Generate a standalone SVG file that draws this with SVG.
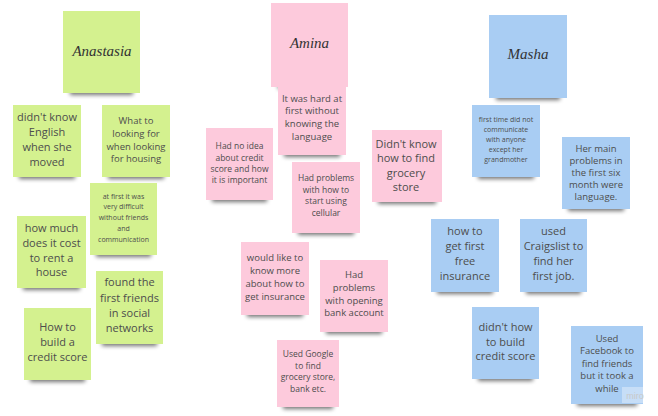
<svg xmlns="http://www.w3.org/2000/svg" width="658" height="416" viewBox="0 0 658 416">
<defs>
<filter id="blur" x="-20%" y="-100%" width="140%" height="300%"><feGaussianBlur stdDeviation="2"/></filter>
<style>
.g{fill:#d4f18f}
.p{fill:#fdcadc}
.b{fill:#a9cdf3}
.sh{fill:#000;opacity:0.55;filter:url(#blur)}
text{font-family:"Open Sans","Noto Sans","Liberation Sans",sans-serif;fill:#4d4d4d;text-anchor:middle}
.t{font-family:"Liberation Serif","DejaVu Serif",serif;font-style:italic;font-size:15px;fill:#333}
.f11{font-size:11px}
.f10{font-size:9.5px}
.f9{font-size:8.5px}
.f7{font-size:7px}
.mi{font-family:"Liberation Sans",sans-serif;font-size:9px;fill:#c9c9c9}
</style>
</defs>
<rect width="658" height="416" fill="#fff"/>

<g id="anastasia">
<rect class="sh" x="70" y="87" width="63" height="8"/>
<rect class="g" x="63" y="11" width="77" height="82"/>
<text class="t" x="102" y="56">Anastasia</text>
</g>
<g id="a1">
<rect class="sh" x="19" y="171" width="56" height="8"/>
<rect class="g" x="13" y="105" width="68" height="72"/>
<text class="f11"><tspan x="47" y="121">didn't know</tspan><tspan x="47" y="136">English</tspan><tspan x="47" y="151">when she</tspan><tspan x="47" y="166">moved</tspan></text>
</g>
<g id="a2">
<rect class="sh" x="108" y="171" width="56" height="8"/>
<rect class="g" x="102" y="105" width="68" height="72"/>
<text class="f10"><tspan x="136" y="123.5">What to</tspan><tspan x="136" y="136.5">looking for</tspan><tspan x="136" y="149.5">when looking</tspan><tspan x="136" y="161.5">for housing</tspan></text>
</g>
<g id="a3">
<rect class="sh" x="96" y="249" width="55" height="8"/>
<rect class="g" x="90" y="183" width="67" height="72"/>
<text class="f7"><tspan x="123.5" y="198.5">at first it was</tspan><tspan x="123.5" y="209">very difficult</tspan><tspan x="123.5" y="219.5">without friends</tspan><tspan x="123.5" y="230.5">and</tspan><tspan x="123.5" y="241.5">communication</tspan></text>
</g>
<g id="a4">
<rect class="sh" x="23" y="282" width="57" height="8"/>
<rect class="g" x="17" y="216" width="69" height="72"/>
<text class="f11"><tspan x="51.5" y="232">how much</tspan><tspan x="51.5" y="247">does it cost</tspan><tspan x="51.5" y="262">to rent a</tspan><tspan x="51.5" y="276">house</tspan></text>
</g>
<g id="a5">
<rect class="sh" x="102" y="338" width="55" height="8"/>
<rect class="g" x="96" y="271" width="67" height="73"/>
<text class="f11"><tspan x="129.5" y="286">found the</tspan><tspan x="129.5" y="302">first friends</tspan><tspan x="129.5" y="317">in social</tspan><tspan x="129.5" y="332">networks</tspan></text>
</g>
<g id="a6">
<rect class="sh" x="30" y="374" width="55" height="8"/>
<rect class="g" x="24" y="308" width="67" height="72"/>
<text class="f11"><tspan x="57.5" y="331">How to</tspan><tspan x="57.5" y="346">build a</tspan><tspan x="57.5" y="361">credit score</tspan></text>
</g>

<g id="amina">
<rect class="sh" x="278" y="81" width="63" height="8"/>
<rect class="p" x="271" y="3" width="77" height="84"/>
<text class="t" x="309.5" y="48">Amina</text>
</g>
<g id="m1">
<rect class="sh" x="284" y="149" width="56" height="8"/>
<rect class="p" x="278" y="87" width="68" height="68"/>
<text class="f10"><tspan x="312" y="101.5">It was hard at</tspan><tspan x="312" y="114">first without</tspan><tspan x="312" y="126.5">knowing the</tspan><tspan x="312" y="139.5">language</tspan></text>
</g>
<g id="m2">
<rect class="sh" x="212" y="194" width="55" height="8"/>
<rect class="p" x="206" y="128" width="67" height="72"/>
<text class="f9"><tspan x="239.5" y="149">Had no idea</tspan><tspan x="239.5" y="160.5">about credit</tspan><tspan x="239.5" y="171.5">score and how</tspan><tspan x="239.5" y="183">it is important</tspan></text>
</g>
<g id="m3">
<rect class="sh" x="378" y="196" width="58" height="8"/>
<rect class="p" x="372" y="130" width="70" height="72"/>
<text class="f11"><tspan x="406" y="148">Didn't know</tspan><tspan x="406" y="162">how to find</tspan><tspan x="406" y="177">grocery</tspan><tspan x="406" y="191">store</tspan></text>
</g>
<g id="m4">
<rect class="sh" x="298" y="227" width="56" height="8"/>
<rect class="p" x="292" y="162" width="68" height="71"/>
<text class="f9"><tspan x="326" y="181">Had problems</tspan><tspan x="326" y="192.5">with how to</tspan><tspan x="326" y="204">start using</tspan><tspan x="326" y="215.5">cellular</tspan></text>
</g>
<g id="m5">
<rect class="sh" x="247" y="309" width="56" height="8"/>
<rect class="p" x="241" y="242" width="68" height="73"/>
<text class="f10"><tspan x="275" y="260.5">would like to</tspan><tspan x="275" y="273.5">know more</tspan><tspan x="275" y="286.5">about how to</tspan><tspan x="275" y="299.5">get insurance</tspan></text>
</g>
<g id="m6">
<rect class="sh" x="326" y="326" width="56" height="8"/>
<rect class="p" x="320" y="260" width="68" height="72"/>
<text class="f10"><tspan x="354" y="277.5">Had</tspan><tspan x="354" y="290.5">problems</tspan><tspan x="354" y="303.5">with opening</tspan><tspan x="354" y="315.5">bank account</tspan></text>
</g>
<g id="m7">
<rect class="sh" x="283" y="401" width="50" height="8"/>
<rect class="p" x="277" y="340" width="62" height="67"/>
<text class="f9"><tspan x="308" y="357">Used Google</tspan><tspan x="308" y="368.5">to find</tspan><tspan x="308" y="380">grocery store,</tspan><tspan x="308" y="392">bank etc.</tspan></text>
</g>

<g id="masha">
<rect class="sh" x="496" y="92" width="64" height="8"/>
<rect class="b" x="489" y="15" width="78" height="83"/>
<text class="t" x="528" y="59">Masha</text>
</g>
<g id="s1">
<rect class="sh" x="478" y="171" width="56" height="8"/>
<rect class="b" x="472" y="105" width="68" height="72"/>
<text class="f7"><tspan x="506" y="121.5">first time did not</tspan><tspan x="506" y="131.5">communicate</tspan><tspan x="506" y="142">with anyone</tspan><tspan x="506" y="152">except her</tspan><tspan x="506" y="162">grandmother</tspan></text>
</g>
<g id="s2">
<rect class="sh" x="568" y="203" width="56" height="8"/>
<rect class="b" x="562" y="137" width="68" height="72"/>
<text class="f10"><tspan x="596" y="152">Her main</tspan><tspan x="596" y="164">problems in</tspan><tspan x="596" y="176">the first six</tspan><tspan x="596" y="188">month were</tspan><tspan x="596" y="200">language.</tspan></text>
</g>
<g id="s3">
<rect class="sh" x="437" y="286" width="56" height="8"/>
<rect class="b" x="431" y="219" width="68" height="73"/>
<text class="f11"><tspan x="465" y="235">how to</tspan><tspan x="465" y="250">get first</tspan><tspan x="465" y="265">free</tspan><tspan x="465" y="280">insurance</tspan></text>
</g>
<g id="s4">
<rect class="sh" x="526" y="286" width="55" height="8"/>
<rect class="b" x="520" y="219" width="67" height="73"/>
<text class="f11"><tspan x="553.5" y="235">used</tspan><tspan x="553.5" y="250">Craigslist to</tspan><tspan x="553.5" y="265">find her</tspan><tspan x="553.5" y="280">first job.</tspan></text>
</g>
<g id="s5">
<rect class="sh" x="478" y="373" width="55" height="8"/>
<rect class="b" x="472" y="307" width="67" height="72"/>
<text class="f11"><tspan x="505.5" y="331">didn't how</tspan><tspan x="505.5" y="346">to build</tspan><tspan x="505.5" y="360">credit score</tspan></text>
</g>
<g id="s6">
<rect class="sh" x="577" y="398" width="60" height="8"/>
<rect class="b" x="571" y="326" width="72" height="78"/>
<text class="f10"><tspan x="607" y="341.5">Used</tspan><tspan x="607" y="354">Facebook to</tspan><tspan x="607" y="366.5">find friends</tspan><tspan x="607" y="379">but it took a</tspan><tspan x="607" y="391.5">while</tspan></text>
</g>

<g id="connectors"></g>

<g id="watermark">
<rect x="622" y="387" width="28" height="16" fill="#fff" opacity="0.35"/>
<text class="mi" x="635" y="399">miro</text>
</g>
</svg>
